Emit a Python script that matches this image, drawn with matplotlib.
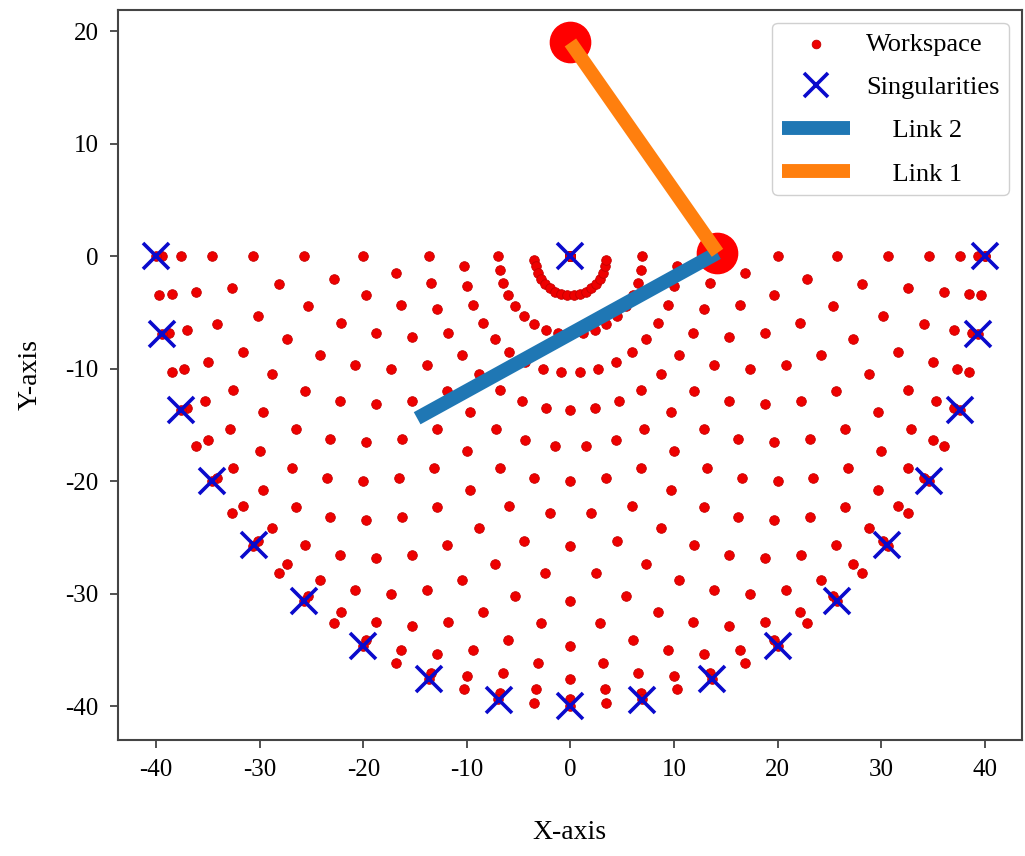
import numpy as np
import matplotlib
matplotlib.use("Agg")
import matplotlib.pyplot as plt

# ---- data ----
# workspace: two-link arm (link lengths 20, 20) sampled on a joint-angle grid,
# only the configurations with the end effector at or below y = 0 are shown
WS_LINK1 = 20.0
WS_LINK2 = 20.0
THETA1_DEG = [0, 10, 20, 30, 40, 50, 60, 70, 80, 90, 100, 110, 120, 130, 140, 150,
              160, 170, 180, 190, 200, 210, 220, 230, 240, 250, 260, 270, 280, 290,
              300, 310, 320, 330, 340, 350, 360]
THETA2_DEG = [0, 10, 20, 30, 40, 50, 60, 70, 80, 90, 100, 110, 120, 130, 140, 150,
              160, 170, 180]

# singularities
SING_X = [-40.0, -39.4, -37.6, -34.6, -30.6, -25.7, -20.0, -13.7, -6.9, 0.0,
          6.9, 13.7, 20.0, 25.7, 30.6, 34.6, 37.6, 39.4, 40.0, 0.0]
SING_Y = [0.0, -6.9, -13.7, -20.0, -25.7, -30.6, -34.6, -37.6, -39.4, -40.0,
          -39.4, -37.6, -34.6, -30.6, -25.7, -20.0, -13.7, -6.9, 0.0, 0.0]

# arm drawn in the figure
LINK1_X = [0.0, 14.2]
LINK1_Y = [19.0, 0.3]
LINK2_X = [14.2, -14.8]
LINK2_Y = [0.3, -14.4]
JOINT_X = [0.0, 14.2]
JOINT_Y = [19.0, 0.3]

XTICKS = [-40, -30, -20, -10, 0, 10, 20, 30, 40]
YTICKS = [20, 10, 0, -10, -20, -30, -40]

# ---- workspace points from the joint grid ----
wx, wy = [], []
for t1 in THETA1_DEG:
    for t2 in THETA2_DEG:
        a1 = np.radians(t1)
        a12 = np.radians(t1 + t2)
        x = WS_LINK1 * np.cos(a1) + WS_LINK2 * np.cos(a12)
        y = WS_LINK1 * np.sin(a1) + WS_LINK2 * np.sin(a12)
        if y <= 1e-6:
            wx.append(x)
            wy.append(y)

plt.rcParams['font.family'] = ['Liberation Serif', 'DejaVu Serif']
plt.rcParams['axes.unicode_minus'] = False

fig = plt.figure(figsize=(10.25, 8.56), dpi=100)
ax = fig.add_axes([0.115, 0.1355, 0.882, 0.853])

ax.plot(JOINT_X, JOINT_Y, 'o', color='#ff0000', markersize=29, zorder=3)
ax.scatter(wx, wy, s=48, color='#ee0000', edgecolors='#c40000', linewidths=0.6,
           label='Workspace', zorder=2)
ax.plot(SING_X, SING_Y, 'x', color='#0a0acc', markersize=19, markeredgewidth=2.6,
        linestyle='none', label='Singularities', zorder=4)
ax.plot(LINK2_X, LINK2_Y, color='#1f77b4', linewidth=10, solid_capstyle='butt',
        label='    Link 2', zorder=5)
ax.plot(LINK1_X, LINK1_Y, color='#ff7f0e', linewidth=10, solid_capstyle='butt',
        label='    Link 1', zorder=6)

ax.set_xlim(-43.7, 43.6)
ax.set_ylim(-43.0, 21.9)
ax.set_xticks(XTICKS)
ax.set_yticks(YTICKS)
ax.tick_params(axis='both', labelsize=18, length=6, width=1.2, direction='out',
               color='#333333', pad=8)
for sp in ax.spines.values():
    sp.set_color('#444444')
    sp.set_linewidth(1.5)

ax.set_xlabel('X-axis', fontsize=20, labelpad=28)
ax.set_ylabel('Y-axis', fontsize=20, labelpad=16)

leg = ax.legend(loc='upper right', fontsize=19, handlelength=2.6,
                handletextpad=0.6, borderpad=0.35, labelspacing=0.75,
                borderaxespad=0.5, framealpha=1.0, edgecolor='#d0d0d0',
                markerscale=0.9)

fig.savefig('out.png', dpi=100)
